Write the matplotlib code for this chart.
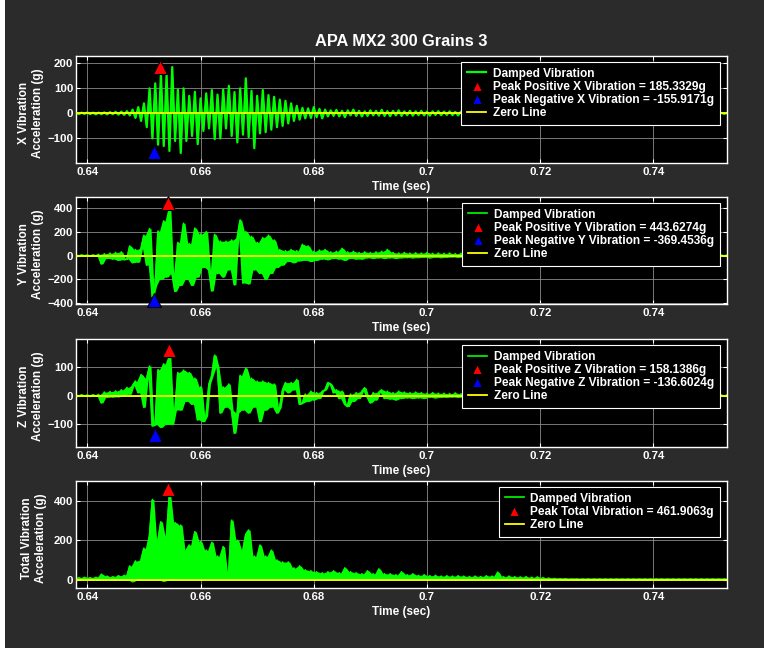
import numpy as np
import matplotlib
matplotlib.use('Agg')
import matplotlib.pyplot as plt
from matplotlib.patches import Rectangle

plt.rcParams['font.family'] = ['Liberation Sans', 'DejaVu Sans']
plt.rcParams['font.weight'] = 'bold'

# sample grid of the damped signals (sec)
t_start = 0.638
t_step = 0.0005

# values, one sample every 0.5 ms from 0.638 s
x_vib = [
    2, -3, 3, -2, 4, -3, 3, -4, 3, -3,
    4, -4, 5, -3, 6, -5, 7, -6, 9, -8,
    15, -18, 25, -30, 40, -55, 100, -100, 120, -125,
    160, -130, 155, -150, 185, -110, 95, -158, 100, -110,
    70, -90, 86, -123, 60, -70, 80, -60, 93, -103,
    75, -100, 95, -60, 110, -90, 85, -116, 100, -85,
    140, -95, 90, -139, 70, -80, 93, -75, 73, -65,
    66, -55, 55, -50, 50, -40, 40, -30, 30, -25,
    22, -20, 20, -18, 25, -15, 18, -20, 15, -12,
    12, -10, 14, -12, 10, -15, 12, -8, 15, -10,
    10, -12, 8, -10, 12, -8, 10, -9, 14, -10,
    9, -11, 10, -8, 12, -10, 8, -7, 10, -9,
    8, -7, 10, -8, 7, -9, 8, -6, 9, -7,
    7, -6, 8, -7, 6, -8, 7, -5, 6, -6,
    6, -5, 7, -6, 5, -6, 6, -4, 5, -5,
    5, -4, 6, -5, 4, -5, 5, -4, 4, -4,
    4, -3, 5, -4, 3, -4, 4, -3, 3, -3,
    3, -3, 4, -3, 3, -3, 3, -2, 3, -3,
    3, -2, 3, -3, 2, -3, 3, -2, 2, -2,
    2, -2, 3, -2, 2, -2, 2, -2, 2, -2,
    2, -2, 2, -2, 2, -2, 2, -2, 2, -2,
    2, -2, 2, -2, 2, -2, 2, -2, 2, -2,
    2, -2, 2, -2, 2, -2, 2, -2, 2, -2, 2,
]

y_vib = [
    3, -4, 5, -3, 4, -6, 5, -4, 10, -70,
    15, -25, 20, -30, 25, -40, 30, -35, -30, 80,
    -60, 50, -55, 60, 170, -80, 225, -345, -250, 205,
    -200, 290, -180, 400, -150, -300, 110, -250, 270, -200,
    100, -250, 230, -180, 180, -100, 200, -120, -296, 177,
    -150, 120, -180, 120, -120, 130, -245, 150, 298, -230,
    200, -237, 160, -120, 110, -150, 150, -200, 170, -150,
    130, -100, 50, -80, 40, -50, 50, -60, 40, -45,
    93, -40, 80, -50, 35, -40, 45, -30, 50, -35,
    30, -25, 35, -30, 60, -40, 30, -25, 35, -30,
    25, -30, 30, -20, 25, -25, 30, -20, 35, -25,
    50, -20, 25, -25, 20, -20, 25, -18, 20, -20,
    22, -18, 20, -15, 25, -20, 18, -15, 20, -18,
    18, -15, 20, -12, 15, -15, 18, -12, 15, -14,
    15, -12, 16, -12, 14, -10, 15, -12, 12, -10,
    12, -10, 14, -10, 12, -9, 10, -8, 10, -8,
    9, -8, 8, -7, 8, -6, 7, -6, 6, -6,
    6, -5, 6, -5, 5, -5, 5, -4, 5, -4,
    4, -4, 5, -4, 4, -3, 4, -3, 4, -3,
    3, -3, 4, -3, 3, -3, 3, -3, 3, -3,
    3, -3, 3, -3, 3, -3, 3, -3, 3, -3,
    3, -3, 3, -3, 3, -3, 3, -3, 3, -3,
    3, -3, 3, -3, 3, -3, 3, -3, 3, -3, 3,
]

z_vib = [
    2, -2, 3, -2, 2, -3, 3, -2, 4, -25,
    12, -6, 14, -5, 16, -4, 20, 0, 28, 5,
    35, 50, 10, 73, -40, 60, 102, -105, -100, 90,
    -110, 110, -100, 137, -100, -50, 80, -50, 88, -20,
    80, -30, 60, -84, 30, -90, -70, 40, 70, 140,
    100, -60, 30, -40, 40, -50, -130, -60, 70, -50,
    95, -60, 60, -40, 50, -90, 50, -50, 45, -40,
    40, -60, -40, 20, 45, 10, 45, 20, 56, -30,
    -25, 5, -20, 15, -15, 10, -10, 15, 20, 45,
    40, 10, 20, -10, 15, -30, -38, 5, -20, 10,
    -10, 15, 27, -5, -25, 10, -15, 12, 20, -10,
    15, -12, 10, -15, 15, -10, 12, -8, 10, -10,
    12, -8, 10, -10, 8, -6, 10, -8, 8, -6,
    8, -6, 7, -5, 9, -6, 6, -5, 7, -5,
    6, -5, 6, -4, 5, -5, 6, -4, 5, -4,
    5, -4, 5, -3, 4, -4, 4, -3, 4, -3,
    4, -3, 3, -3, 3, -3, 3, -2, 3, -2,
    3, -2, 3, -2, 3, -2, 2, -2, 2, -2,
    2, -2, 2, -2, 2, -2, 2, -2, 2, -2,
    2, -2, 2, -2, 2, -2, 2, -2, 2, -2,
    2, -2, 2, -2, 2, -2, 2, -2, 2, -2,
    2, -2, 2, -2, 2, -2, 2, -2, 2, -2,
    2, -2, 2, -2, 2, -2, 2, -2, 2, -2, 2,
]

total_vib = [
    3, 10, 4, 12, 5, 10, 4, 12, 6, 28,
    8, 18, 6, 15, 8, 20, 10, 22, 15, 70,
    -10, 95, 30, 100, 160, 40, 227, 407, 20, 200,
    294, -8, 220, 428, 30, 290, 40, 277, 40, 150,
    176, 30, 244, 40, 193, 30, 150, 35, 190, 40,
    120, 30, 168, 40, 35, 302, 40, 200, 30, 150,
    230, 252, 30, 120, 25, 176, 30, 120, 25, 150,
    20, 100, 20, 90, 15, 90, 15, 60, 15, 70,
    15, 50, 12, 45, 10, 40, 12, 35, 10, 40,
    10, 45, 8, 35, 10, 60, 8, 40, 10, 35,
    8, 30, 10, 45, 8, 30, 6, 55, 8, 30,
    6, 30, 8, 25, 6, 40, 8, 25, 6, 30,
    6, 22, 5, 25, 6, 20, 5, 22, 6, 18,
    5, 20, 5, 18, 4, 20, 5, 18, 4, 16,
    4, 18, 5, 16, 4, 20, 4, 18, 4, 38,
    4, 15, 4, 18, 3, 15, 4, 14, 3, 15,
    3, 12, 3, 14, 3, 10, 3, 8, 3, 6,
    3, 5, 3, 5, 2, 4, 3, 4, 2, 4,
    2, 4, 2, 4, 2, 4, 2, 4, 2, 4,
    2, 4, 2, 4, 2, 4, 2, 4, 2, 4,
    2, 4, 2, 4, 2, 4, 2, 4, 2, 4,
    2, 4, 2, 4, 2, 4, 2, 4, 2, 4,
    2, 4, 2, 4, 2, 4, 2, 4, 2, 4, 2,
]

# peaks (time, value) as marked in the picture
x_peak_pos = (0.6528, 185.3329)
x_peak_neg = (0.6518, -155.9171)
y_peak_pos = (0.6543, 443.6274)
y_peak_neg = (0.6518, -369.4536)
z_peak_pos = (0.6544, 158.1386)
z_peak_neg = (0.6520, -136.6024)
total_peak = (0.6543, 461.9063)

x_ticks = [0.64, 0.66, 0.68, 0.70, 0.72, 0.74]

# (data, axis name, ylim, yticks, peaks, solid envelope?)
panels = [
    (x_vib, 'X', (-198, 229), [-100, 0, 100, 200],
     [('Peak Positive X Vibration', x_peak_pos, 'red'),
      ('Peak Negative X Vibration', x_peak_neg, 'blue')], False),
    (y_vib, 'Y', (-406, 490), [-400, -200, 0, 200, 400],
     [('Peak Positive Y Vibration', y_peak_pos, 'red'),
      ('Peak Negative Y Vibration', y_peak_neg, 'blue')], True),
    (z_vib, 'Z', (-178, 196), [-100, 0, 100],
     [('Peak Positive Z Vibration', z_peak_pos, 'red'),
      ('Peak Negative Z Vibration', z_peak_neg, 'blue')], True),
    (total_vib, 'Total', (-42, 501), [0, 200, 400],
     [('Peak Total Vibration', total_peak, 'red')], True),
]

W, H = 764, 658
fig = plt.figure(figsize=(W / 100, H / 100), dpi=100)
fig.patch.set_facecolor('white')
fig.patches.append(Rectangle((5 / W, 10 / H), 1, 1, transform=fig.transFigure,
                             facecolor='#2b2b2b', edgecolor='none', zorder=-10))

# axes boxes in pixels: (top, bottom)
boxes = [(56, 163), (197, 304), (339, 447), (481, 588)]
left_px, right_px = 76, 727
green = '#00ff00'

for i, (vals, name, ylim, yticks, peaks, solid) in enumerate(panels):
    top, bot = boxes[i]
    ax = fig.add_axes([left_px / W, (H - bot) / H, (right_px - left_px) / W, (bot - top) / H])
    ax.set_facecolor('black')
    v = np.array(vals, dtype=float)
    t = t_start + t_step * np.arange(len(v))
    if solid:
        # area swept by the trace between neighbouring samples
        tm = t[:-1] + t_step / 2
        hi = np.maximum(v[:-1], v[1:])
        lo = np.minimum(v[:-1], v[1:])
        if name == 'Total':
            lo = np.minimum(lo, 0)
        ax.fill_between(tm, lo, hi, color=green, lw=0, zorder=2)
        ax.plot(t, v, color=green, lw=1.2, label='Damped Vibration', zorder=2)
    else:
        ax.fill_between(t, v, 0, color=green, lw=0, zorder=2)
        ax.plot(t, v, color=green, lw=1.6, label='Damped Vibration', zorder=2)
    for label, (pt, pv), col in peaks:
        ax.plot([pt], [pv], '^', color=col, ms=10.5, mec='black', mew=0.8,
                label=f'{label} = {pv:.4f}g', zorder=5, clip_on=False)
    ax.axhline(0, color='#ffff00', lw=1.3, label='Zero Line', zorder=3)

    ax.set_xlim(0.638, 0.753)
    ax.set_ylim(*ylim)
    ax.set_xticks(x_ticks)
    ax.set_xticklabels([f'{x:g}' for x in x_ticks])
    ax.set_yticks(yticks)
    ax.grid(True, color='#8a8a8a', lw=0.6)
    ax.set_axisbelow(True)
    for s in ax.spines.values():
        s.set_color('white')
        s.set_linewidth(1.0)
    ax.tick_params(colors='white', direction='in', length=3, width=0.8,
                   top=True, right=True, labelsize=8.2)
    ax.tick_params(axis='x', pad=3)
    ax.tick_params(axis='y', pad=2)

    ax.set_xlabel('Time (sec)', color='white', fontsize=8.5, fontweight='bold', labelpad=3)
    ax.set_ylabel(f'{name} Vibration\nAcceleration (g)', color='white', fontsize=8.5,
                  fontweight='bold')
    ax.yaxis.set_label_coords(-0.045 if name == 'Total' else -0.049, 0.47)

    leg = ax.legend(loc='upper right', bbox_to_anchor=(0.989, 0.947), borderaxespad=0,
                    facecolor='black', edgecolor='white', framealpha=1, fancybox=False,
                    prop=dict(family=['Liberation Sans', 'DejaVu Sans'], weight='bold', size=8.6),
                    labelcolor='white', numpoints=1, markerscale=0.75, handlelength=1.6,
                    handletextpad=0.55, labelspacing=0.1, borderpad=0.5)
    leg.get_frame().set_linewidth(0.8)
    leg.set_zorder(10)

    if i == 0:
        ax.set_title('APA MX2 300 Grains 3', color='white', fontsize=11.8,
                     fontweight='bold', pad=7)

fig.savefig('out.png', dpi=100, facecolor=fig.get_facecolor())
